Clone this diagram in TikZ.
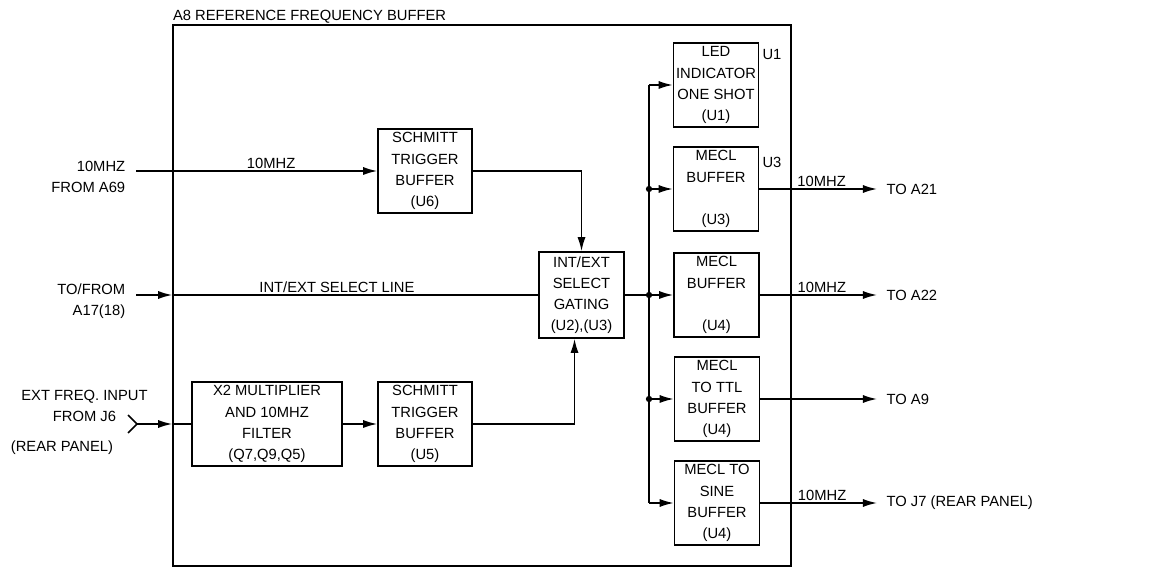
\documentclass[tikz,border=0pt]{standalone}
\usepackage{fontspec}
\setmainfont{Liberation Sans}
\usetikzlibrary{arrows.meta}

\begin{document}
\begin{tikzpicture}[x=0.02cm, y=-0.02cm, line width=0.9pt,
  font=\fontsize{8.4}{12}\selectfont,
  blk/.style={draw, align=center, inner sep=0pt, minimum width=1.7cm, minimum height=1.68cm},
  arr/.style={-{Latex[length=8pt,width=4.6pt]}},
  lbl/.style={inner sep=1pt},
  inlbl/.style={align=right, anchor=east, inner xsep=0.2cm},
  outlbl/.style={anchor=west, inner xsep=5pt},
  jdot/.style={circle, fill, inner sep=0pt, minimum size=3.6pt}]
  \useasboundingbox (0,0) rectangle (1149,570);
  % Board outline
  \node[draw, inner sep=0pt, minimum width=12.36cm, minimum height=10.82cm] (a8) at (482,295.5) {};
  \node[anchor=base west, inner sep=0pt] (title) at ([yshift=2pt]a8.north west) {A8 REFERENCE FREQUENCY BUFFER};
  % Input side blocks
  \node[blk, minimum width=1.88cm] (u6) at (425,171) {SCHMITT\\TRIGGER\\BUFFER\\(U6)};
  \node[blk, minimum width=3cm] (x2) at (267,424) {X2 MULTIPLIER\\AND 10MHZ\\FILTER\\(Q7,Q9,Q5)};
  \node[blk, minimum width=1.88cm] (u5) at (425,424) {SCHMITT\\TRIGGER\\BUFFER\\(U5)};
  \node[blk, minimum height=1.72cm] (intext) at (581.5,295) {INT/EXT\\SELECT\\GATING\\(U2),(U3)};
  % Output side blocks
  \node[blk] (led) at (716,85) {LED\\INDICATOR\\ONE SHOT\\(U1)};
  \node[blk] (mecl1) at (716,189) {MECL\\BUFFER\\~\\(U3)};
  \node[blk] (mecl2) at (716.5,295) {MECL\\BUFFER\\~\\(U4)};
  \node[blk] (ttl) at (717,399) {MECL\\TO TTL\\BUFFER\\(U4)};
  \node[blk] (sine) at (717,503) {MECL TO\\SINE\\BUFFER\\(U4)};
  \node (u1tag) at (772,55) {U1};
  \node (u3tag) at (772,162) {U3};
  % 10MHZ from A69
  \node[inlbl] (a69) at (136,177) {10MHZ\\FROM A69};
  \draw[arr] (u6.west -| a69.east) -- (u6.west) node[pos=0.56, above, lbl] (f69) {10MHZ};
  % Int/ext select line
  \node[inlbl] (a17) at (136,301) {TO/FROM\\A17(18)};
  \draw[arr] (intext.west -| a17.east) -- (intext.west -| a8.west);
  \draw (intext.west -| a8.west) -- (intext.west) node[pos=0.45, above, lbl] (sel) {INT/EXT SELECT LINE};
  % External frequency input
  \node[align=center] (j6lbl) at (84.5,406) {EXT FREQ. INPUT\\FROM J6};
  \node (rear) at (62,448) {(REAR PANEL)};
  \coordinate (j6) at (137,424);
  \draw ([shift={(-9,-9)}]j6) -- (j6) -- ([shift={(-9,9)}]j6);
  \draw[arr] (j6) -- (j6 -| a8.west);
  \draw (j6 -| a8.west) -- (x2.west);
  \draw[arr] (x2) -- (u5);
  % Into the gating block
  \draw[arr] (u6.east) -| (intext.north);
  \draw[arr] (u5.east) -| ([xshift=-0.14cm]intext.south);
  % Distribution bus
  \coordinate (bt) at (649,85);
  \coordinate (bb) at (649,503);
  \draw (intext.east) -- (intext.east -| bt);
  \draw (bt) -- (bb);
  \draw[arr] (bt) -- (led.west);
  \draw[arr] (bb) -- (sine.west);
  \draw[arr] (mecl1.west -| bt) -- (mecl1.west);
  \draw[arr] (mecl2.west -| bt) -- (mecl2.west);
  \draw[arr] (ttl.west -| bt) -- (ttl.west);
  \node[jdot] (j1) at (mecl1.west -| bt) {};
  \node[jdot] (j2) at (mecl2.west -| bt) {};
  \node[jdot] (j3) at (ttl.west -| bt) {};
  % Outputs
  \node[outlbl] (a21) at (877,189) {TO A21};
  \node[outlbl] (a22) at (877,295) {TO A22};
  \node[outlbl] (a9) at (877,399) {TO A9};
  \node[outlbl] (j7) at (877,503) {TO J7 (REAR PANEL)};
  \draw[arr] (mecl1.east) -- (a21.west) node[pos=0.53, above, lbl] (f21) {10MHZ};
  \draw[arr] (mecl2.east) -- (a22.west) node[pos=0.53, above, lbl] (f22) {10MHZ};
  \draw[arr] (ttl.east) -- (a9.west);
  \draw[arr] (sine.east) -- (j7.west) node[pos=0.53, above, lbl] (fj7) {10MHZ};
\end{tikzpicture}
\end{document}
